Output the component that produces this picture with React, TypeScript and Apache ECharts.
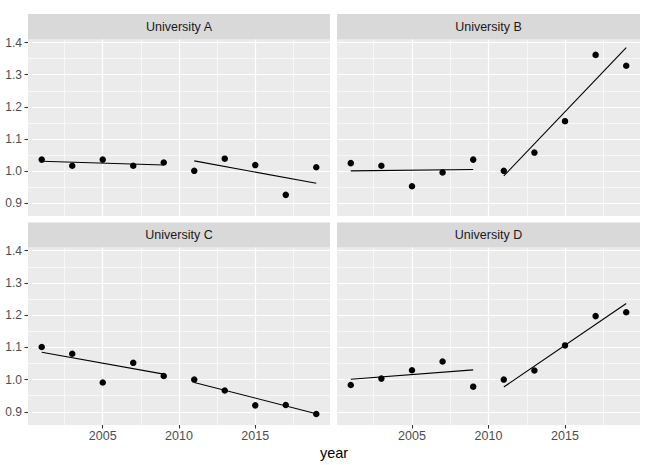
import React, { useEffect, useRef } from "react";
import * as echarts from "echarts";

// Observation years and per-university index values
const years = [2001, 2003, 2005, 2007, 2009, 2011, 2013, 2015, 2017, 2019];
const panels = ["University A", "University B", "University C", "University D"];
const uniA = [1.035, 1.016, 1.035, 1.016, 1.026, 1.0, 1.038, 1.018, 0.925, 1.011];
const uniB = [1.024, 1.016, 0.952, 0.995, 1.035, 1.0, 1.057, 1.155, 1.362, 1.328];
const uniC = [1.101, 1.08, 0.991, 1.052, 1.011, 1.0, 0.966, 0.92, 0.921, 0.893];
const uniD = [0.983, 1.003, 1.029, 1.056, 0.978, 1.0, 1.028, 1.106, 1.197, 1.209];

// Fitted trend segments: [start, end] for each period
const preYears = [2001, 2009];
const postYears = [2011, 2019];
const trendPre = [
  [1.03, 1.018],
  [1.0, 1.004],
  [1.085, 1.017],
  [1.001, 1.03],
];
const trendPost = [
  [1.031, 0.961],
  [0.984, 1.385],
  [0.991, 0.894],
  [0.977, 1.236],
];

// Axis breaks
const yMajor = [0.9, 1.0, 1.1, 1.2, 1.3, 1.4];
const yMinor = [0.95, 1.05, 1.15, 1.25, 1.35];
const xMajor = [2005, 2010, 2015];
const xMinor = [2002.5, 2007.5, 2012.5, 2017.5];

const values = [uniA, uniB, uniC, uniD];

const FONT = "'Liberation Sans', Arial, sans-serif";
const COLS = [
  [28, 330],
  [337, 640],
];
const ROWS = [
  [39.5, 216],
  [247.5, 425],
];
const STRIPS = [
  [14, 39.5],
  [222.5, 247.5],
];
const Y_MIN = 0.859;
const Y_MAX = 1.41;
const X_MIN = 2000.1;
const X_MAX = 2019.9;

export default function App() {
  const ref = useRef<HTMLDivElement>(null);

  useEffect(() => {
    if (!ref.current) return;
    const chart = echarts.init(ref.current, undefined, { renderer: "svg" });

    const grids: any[] = [];
    const xAxes: any[] = [];
    const yAxes: any[] = [];
    const series: any[] = [];
    const graphics: any[] = [];

    panels.forEach((name, i) => {
      const col = i % 2;
      const row = Math.floor(i / 2);
      const [l, r] = COLS[col];
      const [t, b] = ROWS[row];
      const isLeft = col === 0;
      const isBottom = row === 1;

      grids.push({
        left: l,
        top: t,
        width: r - l,
        height: b - t,
        show: true,
        backgroundColor: "#EBEBEB",
        borderWidth: 0,
        containLabel: false,
      });

      xAxes.push({
        type: "value",
        gridIndex: i,
        min: X_MIN,
        max: X_MAX,
        axisLine: { show: false },
        splitLine: { show: false },
        axisTick: {
          show: isBottom,
          length: 3.5,
          customValues: xMajor,
          lineStyle: { color: "#333333", width: 1.1 },
        },
        axisLabel: {
          show: isBottom,
          customValues: xMajor,
          margin: 4,
          color: "#4D4D4D",
          fontSize: 12.5,
          fontFamily: FONT,
          formatter: (v: number) => String(v),
        },
      });

      yAxes.push({
        type: "value",
        gridIndex: i,
        min: Y_MIN,
        max: Y_MAX,
        axisLine: { show: false },
        splitLine: { show: false },
        axisTick: {
          show: isLeft,
          length: 3.5,
          customValues: yMajor,
          lineStyle: { color: "#333333", width: 1.1 },
        },
        axisLabel: {
          show: isLeft,
          customValues: yMajor,
          margin: 6,
          color: "#4D4D4D",
          fontSize: 12,
          fontFamily: FONT,
          formatter: (v: number) => v.toFixed(1),
        },
      });

      const gridLines = [
        ...yMinor.map((v) => ({ yAxis: v, lineStyle: { color: "#FFFFFF", width: 0.6, type: "solid" } })),
        ...xMinor.map((v) => ({ xAxis: v, lineStyle: { color: "#FFFFFF", width: 0.6, type: "solid" } })),
        ...yMajor.map((v) => ({ yAxis: v, lineStyle: { color: "#FFFFFF", width: 1.2, type: "solid" } })),
        ...xMajor.map((v) => ({ xAxis: v, lineStyle: { color: "#FFFFFF", width: 1.2, type: "solid" } })),
      ];

      series.push({
        type: "scatter",
        xAxisIndex: i,
        yAxisIndex: i,
        data: years.map((y, k) => [y, values[i][k]]),
        symbol: "circle",
        symbolSize: 6.5,
        itemStyle: { color: "#000000", opacity: 1 },
        z: 4,
        silent: true,
        markLine: {
          silent: true,
          z: 1,
          symbol: ["none", "none"],
          label: { show: false },
          emphasis: { disabled: true },
          data: gridLines,
        },
      });

      series.push({
        type: "line",
        xAxisIndex: i,
        yAxisIndex: i,
        data: preYears.map((y, k) => [y, trendPre[i][k]]),
        showSymbol: false,
        symbol: "none",
        lineStyle: { color: "#000000", width: 1.1 },
        z: 3,
        silent: true,
      });

      series.push({
        type: "line",
        xAxisIndex: i,
        yAxisIndex: i,
        data: postYears.map((y, k) => [y, trendPost[i][k]]),
        showSymbol: false,
        symbol: "none",
        lineStyle: { color: "#000000", width: 1.1 },
        z: 3,
        silent: true,
      });

      const [st, sb] = STRIPS[row];
      graphics.push({
        type: "rect",
        shape: { x: l, y: st, width: r - l, height: sb - st },
        style: { fill: "#D9D9D9" },
        silent: true,
      });
      graphics.push({
        type: "text",
        x: (l + r) / 2,
        y: (st + sb) / 2,
        style: {
          text: name,
          fill: "#1A1A1A",
          font: `12.5px ${FONT}`,
          align: "center",
          verticalAlign: "middle",
        },
        silent: true,
      });
    });

    graphics.push({
      type: "text",
      x: (COLS[0][0] + COLS[1][1]) / 2,
      y: 453,
      style: {
        text: "year",
        fill: "#000000",
        font: `14.5px ${FONT}`,
        align: "center",
        verticalAlign: "middle",
      },
      silent: true,
    });

    chart.setOption({
      animation: false,
      backgroundColor: "#FFFFFF",
      grid: grids,
      xAxis: xAxes,
      yAxis: yAxes,
      series,
      graphic: graphics,
    });

    return () => chart.dispose();
  }, []);

  return (
    <div
      ref={ref}
      style={{ position: "fixed", left: 0, top: 0, width: 652, height: 465 }}
    />
  );
}
